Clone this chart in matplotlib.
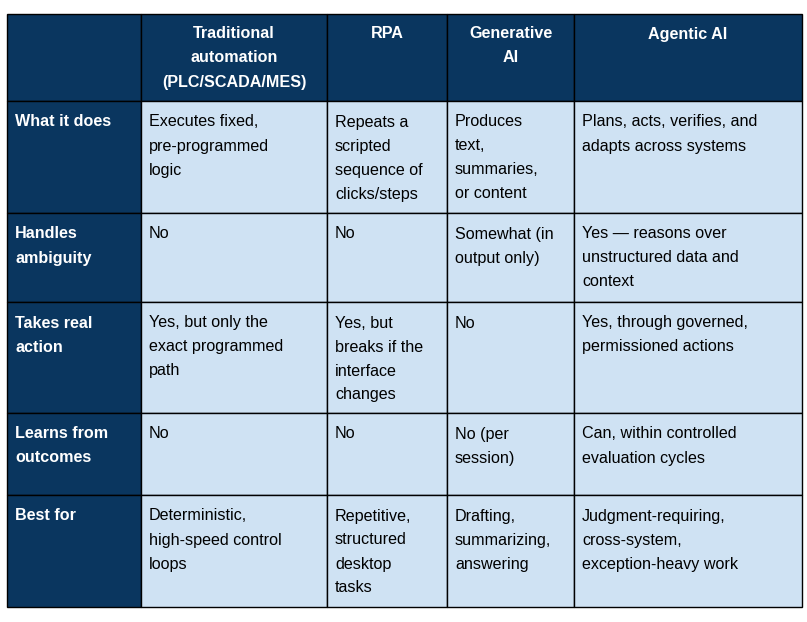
import matplotlib

matplotlib.use("Agg")
import matplotlib.pyplot as plt
from matplotlib.patches import Rectangle

plt.rcParams["font.family"] = ["Liberation Sans", "DejaVu Sans"]

HEADERS = ["", "Traditional\nautomation\n(PLC/SCADA/MES)", "RPA", "Generative\nAI", "Agentic AI"]
ROW_LABELS = ["What it does", "Handles\nambiguity", "Takes real\naction", "Learns from\noutcomes", "Best for"]
CELLS = [
    ["Executes fixed,\npre-programmed\nlogic", "Repeats a\nscripted\nsequence of\nclicks/steps",
     "Produces\ntext,\nsummaries,\nor content", "Plans, acts, verifies, and\nadapts across systems"],
    ["No", "No", "Somewhat (in\noutput only)", "Yes \u2014 reasons over\nunstructured data and\ncontext"],
    ["Yes, but only the\nexact programmed\npath", "Yes, but\nbreaks if the\ninterface\nchanges", "No",
     "Yes, through governed,\npermissioned actions"],
    ["No", "No", "No (per\nsession)", "Can, within controlled\nevaluation cycles"],
    ["Deterministic,\nhigh-speed control\nloops", "Repetitive,\nstructured\ndesktop\ntasks",
     "Drafting,\nsummarizing,\nanswering", "Judgment-requiring,\ncross-system,\nexception-heavy work"],
]

COL_X = [7, 141, 327, 447, 574, 802]
ROW_Y = [14, 101, 213, 302, 413, 495, 607]
DARK = "#0a365f"
LIGHT = "#cfe2f3"
FS = 11.6
LINE = 24

fig = plt.figure(figsize=(8.07, 6.22), dpi=100)
ax = fig.add_axes([0, 0, 1, 1])
ax.set_xlim(0, 807)
ax.set_ylim(622, 0)
ax.axis("off")


def put_lines(text, x, y0, ha, color, weight):
    for i, line in enumerate(text.split("\n")):
        ax.text(x, y0 + i * LINE, line, ha=ha, va="center", color=color,
                fontsize=FS, fontweight=weight)


for r in range(len(ROW_Y) - 1):
    for c in range(len(COL_X) - 1):
        x0, x1 = COL_X[c], COL_X[c + 1]
        y0, y1 = ROW_Y[r], ROW_Y[r + 1]
        dark = r == 0 or c == 0
        ax.add_patch(Rectangle((x0, y0), x1 - x0, y1 - y0, facecolor=DARK if dark else LIGHT,
                               edgecolor="black", linewidth=1))
        if r == 0:
            put_lines(HEADERS[c], (x0 + x1) / 2, y0 + 20, "center", "white", "bold")
        elif c == 0:
            put_lines(ROW_LABELS[r - 1], x0 + 8, y0 + 21, "left", "white", "bold")
        else:
            put_lines(CELLS[r - 1][c - 1], x0 + 8, y0 + 21, "left", "black", "normal")

fig.savefig("out.png", dpi=100)
